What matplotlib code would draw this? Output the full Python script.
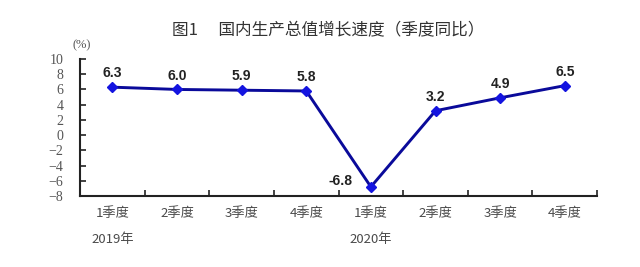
import matplotlib
matplotlib.use("Agg")
import matplotlib.pyplot as plt
from matplotlib.transforms import blended_transform_factory

plt.rcParams['font.family'] = ['Noto Sans CJK SC', 'DejaVu Sans']

quarters = ["1季度", "2季度", "3季度", "4季度", "1季度", "2季度", "3季度", "4季度"]
years = ["2019年", "2020年"]
year_start_index = [0, 4]
gdp_growth = [6.3, 6.0, 5.9, 5.8, -6.8, 3.2, 4.9, 6.5]
y_ticks = [10, 8, 6, 4, 2, 0, -2, -4, -6, -8]

fig = plt.figure(figsize=(6.4, 2.67), dpi=100)
ax = fig.add_axes([0.125, 0.266, 0.808, 0.513])

x = list(range(len(gdp_growth)))
ax.plot(x, gdp_growth, color="#0a0a9a", linewidth=2.1, marker="D",
        markersize=5.5, markerfacecolor="#1414e0", markeredgecolor="#1414e0",
        solid_joinstyle="round", zorder=3)

for i, v in enumerate(gdp_growth):
    if v < 0:
        off = (-22, 4)
    else:
        off = (0, 10)
    ax.annotate(f"{v:.1f}", (i, v), xytext=off, textcoords="offset points",
                ha="center", va="center", fontsize=10, fontweight="bold",
                family="Liberation Sans", color="#222222")

ax.set_xlim(-0.5, len(gdp_growth) - 0.5)
ax.set_ylim(-8, 10)

# category boundaries carry the tick marks, centres carry the labels
ax.set_xticks([i - 0.5 for i in range(len(gdp_growth) + 1)])
ax.set_xticklabels([])
ax.set_xticks(x, minor=True)
ax.set_xticklabels(quarters, minor=True, fontsize=9.5, color="#4a4a4a")
ax.tick_params(axis="x", which="major", direction="in", length=4, width=1.2,
               color="#222222")
ax.tick_params(axis="x", which="minor", length=0, pad=8)

ax.set_yticks(y_ticks)
ax.set_yticklabels([str(t).replace("-", "\u2212") for t in y_ticks],
                   family="Liberation Serif", fontsize=10, color="#555555")
ax.tick_params(axis="y", direction="in", length=4, width=1.2, color="#222222",
               pad=12)

for side in ("top", "right"):
    ax.spines[side].set_visible(False)
for side in ("left", "bottom"):
    ax.spines[side].set_linewidth(1.5)
    ax.spines[side].set_color("#222222")

trans = blended_transform_factory(ax.transData, ax.transAxes)
for label, idx in zip(years, year_start_index):
    ax.text(idx, -0.32, label, transform=trans, ha="center", va="center",
            fontsize=9.5, color="#4a4a4a")

fig.text(0.5125, 0.886, "图1　 国内生产总值增长速度（季度同比）", ha="center",
         va="center", fontsize=12, color="#333333")
fig.text(0.128, 0.832, "(%)", ha="center", va="center", fontsize=9,
         color="#555555", family="Liberation Serif")

fig.savefig("out.png", dpi=100)
